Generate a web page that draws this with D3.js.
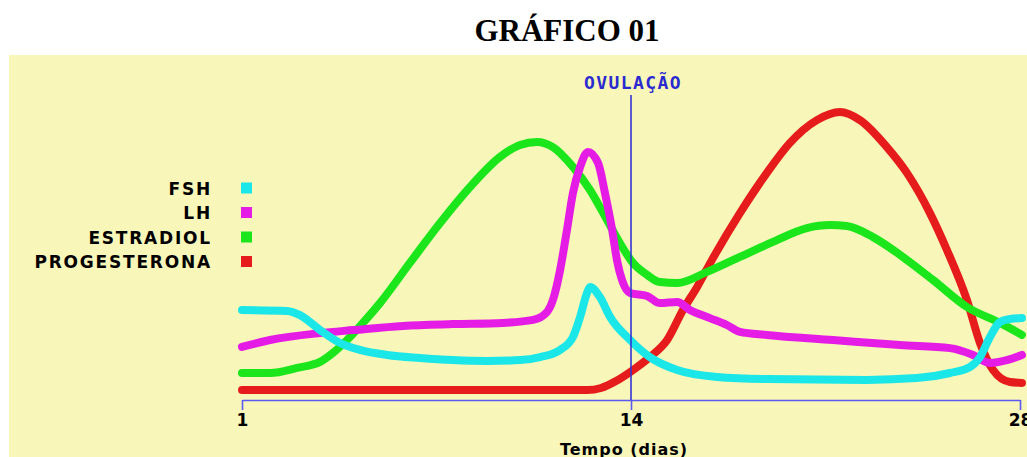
<!DOCTYPE html>
<html>
<head>
<meta charset="utf-8">
<script src="https://cdn.jsdelivr.net/npm/d3@7"></script>
<style>
  body { margin: 0; background: #fff; }
  svg { display: block; }
</style>
</head>
<body>
<div id="chart"></div>
<script>
// Hormone levels over the cycle (x = day, y = relative level 0-100)
const days = [1, 14, 28];
const ovulationDay = 14;
const seriesNames = ["FSH", "LH", "ESTRADIOL", "PROGESTERONA"];

const fsh = [
  [1.0, 30.0], [2.5, 29.7], [2.94, 28.3], [3.61, 23.3], [4.28, 19.0], [4.94, 16.7],
  [5.85, 15.0], [6.95, 14.0], [8.05, 13.3], [9.19, 13.0], [10.29, 13.3], [10.96, 14.3],
  [11.63, 16.7], [12.06, 21.0], [12.3, 27.7], [12.53, 35.7], [12.63, 37.7], [12.96, 34.3],
  [13.3, 27.7], [13.97, 20.0], [14.68, 14.3], [15.66, 10.0], [17.09, 7.7], [18.89, 7.0],
  [22.49, 6.7], [24.29, 7.3], [25.48, 9.0], [26.2, 11.0], [26.56, 14.3], [26.92, 21.0],
  [27.28, 26.0], [27.64, 27.0], [28.07, 27.3]
];

const lh = [
  [1.0, 17.7], [1.94, 20.0], [3.61, 22.3], [4.71, 23.3], [6.38, 24.7], [8.05, 25.3],
  [9.72, 25.7], [10.73, 26.7], [11.19, 29.3], [11.39, 33.3], [11.63, 43.3], [11.86, 56.7],
  [12.06, 69.0], [12.3, 77.7], [12.56, 82.7], [12.9, 79.0], [13.13, 69.0], [13.37, 56.7],
  [13.53, 46.7], [13.7, 40.0], [13.97, 35.7], [14.58, 34.7], [15.04, 32.3], [15.66, 32.7],
  [16.12, 30.0], [16.84, 27.3], [17.45, 25.0], [17.92, 22.7], [18.89, 21.7], [21.27, 20.0],
  [23.68, 18.3], [25.48, 17.3], [26.31, 15.0], [26.92, 12.3], [27.53, 13.3], [28.07, 15.0]
];

const estradiol = [
  [1.0, 9.0], [1.94, 9.0], [2.84, 10.7], [3.61, 12.7], [4.04, 15.7], [4.51, 20.0],
  [5.04, 25.7], [5.61, 32.3], [6.61, 45.7], [7.62, 59.0], [8.62, 71.0], [9.62, 81.0],
  [10.29, 85.0], [10.86, 86.0], [11.39, 84.3], [12.06, 77.7], [12.63, 70.0], [13.2, 60.0],
  [13.63, 52.3], [14.07, 45.7], [14.58, 41.7], [15.04, 39.3], [15.66, 39.0], [16.74, 42.7],
  [17.92, 47.7], [19.11, 52.7], [20.33, 57.3], [21.16, 58.3], [21.77, 58.0], [22.71, 54.3],
  [23.93, 46.7], [24.87, 40.0], [26.09, 31.0], [27.28, 25.7], [28.07, 21.7]
];

const progesterona = [
  [1.0, 3.3], [12.53, 3.3], [13.0, 4.0], [13.5, 6.3], [14.0, 9.5], [14.68, 14.3],
  [15.3, 20.0], [15.87, 30.0], [16.38, 37.7], [16.95, 47.3], [17.92, 62.3], [18.89, 75.7],
  [19.72, 85.7], [20.69, 93.3], [21.52, 96.0], [22.24, 93.3], [23.21, 84.3], [23.93, 75.7],
  [24.76, 62.3], [25.37, 50.0], [26.09, 33.3], [26.56, 19.0], [27.03, 10.0], [27.64, 6.0],
  [28.07, 5.7]
];

const colors = {
  "FSH": "#1be6e8",
  "LH": "#e51be6",
  "ESTRADIOL": "#1be61b",
  "PROGESTERONA": "#e61b1b"
};

const W = 1027, H = 457;

const svg = d3.select("#chart")
  .append("svg")
  .attr("width", W)
  .attr("height", H);

// Title
svg.append("text")
  .attr("x", 567)
  .attr("y", 41)
  .attr("text-anchor", "middle")
  .style("font-family", "'Liberation Serif', 'Times New Roman', serif")
  .style("font-weight", "bold")
  .style("font-size", "31px")
  .attr("fill", "#000")
  .text("GRÁFICO 01");

// Yellow panel
svg.append("rect")
  .attr("x", 9)
  .attr("y", 55)
  .attr("width", W - 9)
  .attr("height", H - 55)
  .attr("fill", "#f8f6b9");

// Scales
const x = d3.scaleLinear().domain(days).range([242, 631, 1020]);
const y = d3.scaleLinear().domain([0, 100]).range([400, 100]);

const line = d3.line()
  .x(d => x(d[0]))
  .y(d => y(d[1]))
  .curve(d3.curveMonotoneX);

// Curves (bottom to top)
const drawOrder = [
  ["PROGESTERONA", progesterona],
  ["ESTRADIOL", estradiol],
  ["LH", lh],
  ["FSH", fsh]
];

svg.selectAll(".curve")
  .data(drawOrder)
  .enter()
  .append("path")
  .attr("class", "curve")
  .attr("d", d => line(d[1]))
  .attr("fill", "none")
  .attr("stroke", d => colors[d[0]])
  .attr("stroke-width", 8)
  .attr("stroke-linecap", "round")
  .attr("stroke-linejoin", "round");

// X axis
const axis = svg.append("g")
  .attr("transform", `translate(0,${y(0)})`)
  .call(d3.axisBottom(x).tickValues(days).tickSize(10).tickSizeOuter(0).tickFormat(d3.format("d")));

axis.select(".domain").attr("stroke", "#5a5af0").attr("stroke-width", 1.6);
axis.selectAll(".tick line").attr("stroke", "#5a5af0").attr("stroke-width", 1.6);
axis.selectAll(".tick text")
  .attr("y", 14)
  .attr("fill", "#000")
  .style("font-family", "'DejaVu Sans', sans-serif")
  .style("font-weight", "bold")
  .style("font-size", "17px");

// X axis label
svg.append("text")
  .attr("x", 624)
  .attr("y", 455)
  .attr("text-anchor", "middle")
  .style("font-family", "'DejaVu Sans', sans-serif")
  .style("font-weight", "bold")
  .style("font-size", "16px")
  .style("letter-spacing", "1px")
  .attr("fill", "#000")
  .text("Tempo (dias)");

// Ovulation marker
svg.append("line")
  .attr("x1", x(ovulationDay))
  .attr("x2", x(ovulationDay))
  .attr("y1", 95)
  .attr("y2", y(0))
  .attr("stroke", "#3434d4")
  .attr("stroke-width", 1.6);

svg.append("text")
  .attr("x", x(ovulationDay) + 2)
  .attr("y", 89)
  .attr("text-anchor", "middle")
  .style("font-family", "'DejaVu Sans Mono', monospace")
  .style("font-weight", "bold")
  .style("font-size", "18px")
  .style("letter-spacing", "1.4px")
  .attr("fill", "#2a2ad0")
  .text("OVULAÇÃO");

// Legend
const legend = svg.append("g");
const rows = legend.selectAll(".legend-row")
  .data(seriesNames)
  .enter()
  .append("g")
  .attr("class", "legend-row")
  .attr("transform", (d, i) => `translate(0,${188 + i * 24.5})`);

rows.append("text")
  .attr("x", 212)
  .attr("y", 6.5)
  .attr("text-anchor", "end")
  .style("font-family", "'DejaVu Sans', sans-serif")
  .style("font-weight", "bold")
  .style("font-size", "17px")
  .style("letter-spacing", "1.8px")
  .attr("fill", "#000")
  .text(d => d);

rows.append("rect")
  .attr("x", 241)
  .attr("y", -5.5)
  .attr("width", 11)
  .attr("height", 11)
  .attr("fill", d => colors[d]);
</script>
</body>
</html>
